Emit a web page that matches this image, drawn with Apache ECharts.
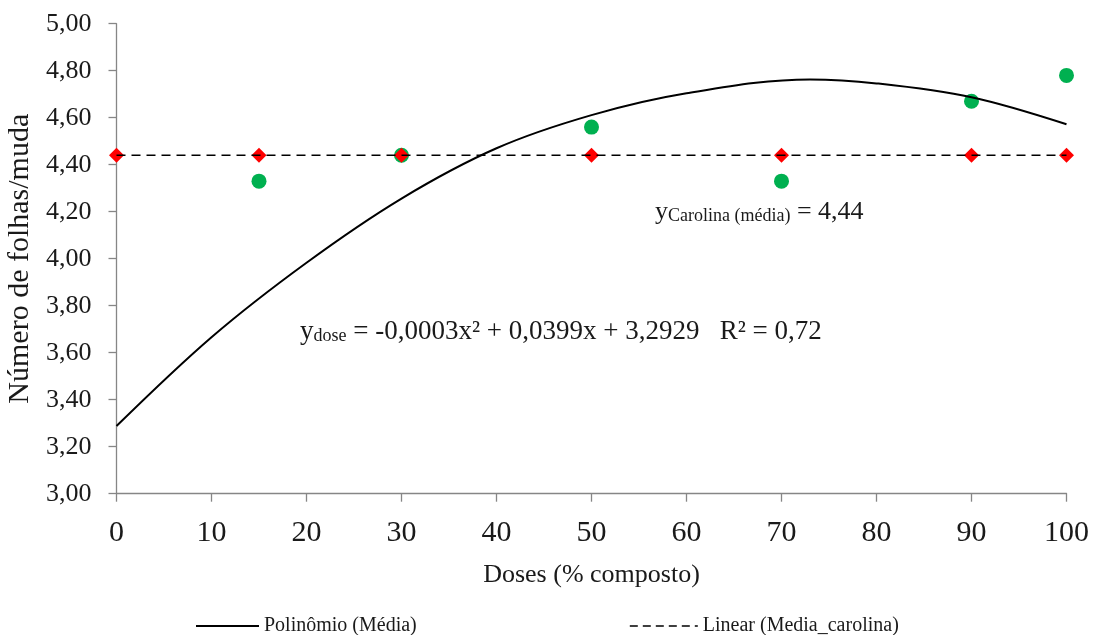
<!DOCTYPE html>
<html><head><meta charset="utf-8">
<script src="https://cdn.jsdelivr.net/npm/echarts@6/dist/echarts.min.js"></script>
<style>html,body{margin:0;padding:0;background:#fff}#c{width:1099px;height:635px}</style>
</head><body><div id="c"></div>
<script>
// Observed values (green circles)
const obsDoses = [15, 30, 50, 70, 90, 100];
const obsValues = [4.33, 4.44, 4.56, 4.33, 4.67, 4.78];
// Carolina mean (red diamonds)
const carDoses = [0, 15, 30, 50, 70, 90, 100];
const carValues = [4.44, 4.44, 4.44, 4.44, 4.44, 4.44, 4.44];
// Polynomial trend curve (incl. its peak near 73)
const curveDoses = [0, 10, 20, 30, 40, 50, 60, 73, 80, 90, 100];
const curveValues = [3.288, 3.666, 3.983, 4.256, 4.47, 4.611, 4.704, 4.763, 4.746, 4.687, 4.572];
// Linear (Carolina mean) line
const linDoses = [0, 100];
const linValues = [4.44, 4.44];

const FONT = '"Liberation Serif", "Times New Roman", serif';
const TXT = '#1a1a1a';
const zip = (a, b) => a.map((v, i) => [v, b[i]]);

const chart = echarts.init(document.getElementById('c'), null, {renderer: 'canvas'});
const richA = {
  m: {fontFamily: FONT, fontSize: 27, fill: TXT, lineHeight: 32, verticalAlign: 'bottom'},
  s: {fontFamily: FONT, fontSize: 18, fill: TXT, lineHeight: 14, verticalAlign: 'bottom'}
};
const richB = {
  m: {fontFamily: FONT, fontSize: 26, fill: TXT, lineHeight: 32, verticalAlign: 'bottom'},
  s: {fontFamily: FONT, fontSize: 18, fill: TXT, lineHeight: 14, verticalAlign: 'bottom'}
};
chart.setOption({
  animation: false,
  backgroundColor: '#fff',
  grid: {left: 116.5, right: 32.5, top: 23.7, bottom: 141.3, containLabel: false, outerBoundsMode: 'none'},
  xAxis: {
    type: 'value', min: 0, max: 100, interval: 10,
    name: 'Doses (% composto)', nameLocation: 'middle', nameGap: 68,
    nameTextStyle: {fontFamily: FONT, fontSize: 26, color: TXT},
    axisLine: {lineStyle: {color: '#868686', width: 1.3}},
    axisTick: {show: true, length: 8, lineStyle: {color: '#868686', width: 1.3}},
    axisLabel: {fontFamily: FONT, fontSize: 30, color: TXT, margin: 24},
    splitLine: {show: false}
  },
  yAxis: {
    type: 'value', min: 3, max: 5, interval: 0.2,
    name: 'Número de folhas/muda', nameLocation: 'middle', nameGap: 76, nameRotate: 90,
    nameTextStyle: {fontFamily: FONT, fontSize: 30, color: TXT},
    axisLine: {show: true, lineStyle: {color: '#868686', width: 1.3}},
    axisTick: {show: true, length: 8, lineStyle: {color: '#868686', width: 1.3}},
    axisLabel: {fontFamily: FONT, fontSize: 26, color: TXT, margin: 25,
      formatter: v => v.toFixed(2).replace('.', ',')},
    splitLine: {show: false}
  },
  legend: [
    {data: ['Polinômio (Média)'], left: 190, top: 611, itemWidth: 63, itemHeight: 14, itemGap: 0,
     itemStyle: {opacity: 0}, lineStyle: {color: '#000', width: 2},
     textStyle: {fontFamily: FONT, fontSize: 20, color: TXT}},
    {data: ['Linear (Media_carolina)'], left: 624, top: 611, itemWidth: 68, itemHeight: 14, itemGap: 0,
     itemStyle: {opacity: 0}, lineStyle: {color: '#000', width: 1.6, type: [8, 5]},
     textStyle: {fontFamily: FONT, fontSize: 20, color: TXT}}
  ],
  series: [
    {name: 'Observado', type: 'scatter', data: zip(obsDoses, obsValues), symbol: 'circle', symbolSize: 15,
     itemStyle: {color: '#00B050', opacity: 1}, z: 2},
    {name: 'Carolina', type: 'scatter', data: zip(carDoses, carValues), symbol: 'diamond', symbolSize: [15, 15],
     itemStyle: {color: '#FF0000', opacity: 1}, z: 3},
    {name: 'Polinômio (Média)', type: 'line', data: zip(curveDoses, curveValues), smooth: 0.35, showSymbol: false, symbol: 'none',
     lineStyle: {color: '#000', width: 2}, itemStyle: {color: '#000'}, z: 4},
    {name: 'Linear (Media_carolina)', type: 'line', data: zip(linDoses, linValues), showSymbol: false, symbol: 'none',
     lineStyle: {color: '#000', width: 1.6, type: [9, 6]}, itemStyle: {color: '#000'}, z: 4}
  ],
  graphic: [
    {type: 'text', left: 300, top: 318, style: {rich: richA,
      text: '{m|y}{s|dose}{m| = -0,0003x² + 0,0399x + 3,2929   R² = 0,72}'}},
    {type: 'text', left: 655, top: 199, style: {rich: richB,
      text: '{m|y}{s|Carolina (média)}{m| = 4,44}'}}
  ]
});
</script></body></html>
